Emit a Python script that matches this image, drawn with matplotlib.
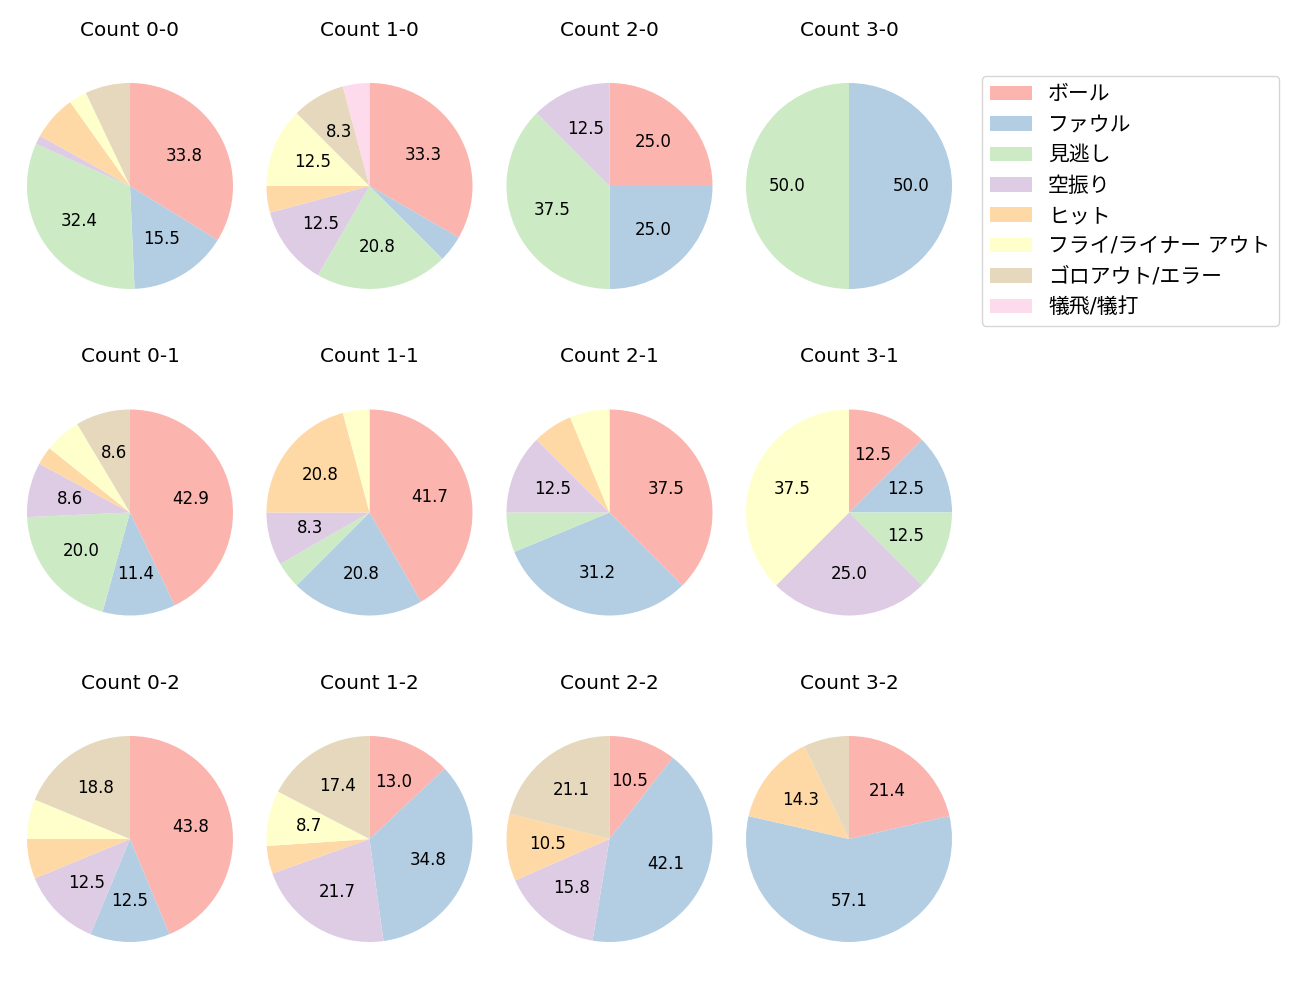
import matplotlib
matplotlib.use("Agg")
import matplotlib.pyplot as plt
from matplotlib.patches import Patch

plt.rcParams['font.family'] = ['DejaVu Sans', 'Noto Sans CJK JP']
plt.rcParams['font.size'] = 12

categories = ['ボール', 'ファウル', '見逃し', '空振り', 'ヒット',
              'フライ/ライナー アウト', 'ゴロアウト/エラー', '犠飛/犠打']
colors = ['#fbb4ae', '#b3cde3', '#ccebc5', '#decbe4', '#fed9a6',
          '#ffffcc', '#e5d8bd', '#fddaec']

count_labels = ['0-0', '1-0', '2-0', '3-0',
                '0-1', '1-1', '2-1', '3-1',
                '0-2', '1-2', '2-2', '3-2']

count_0_0 = [24, 11, 23, 1, 5, 2, 5, 0]
count_1_0 = [8, 1, 5, 3, 1, 3, 2, 1]
count_2_0 = [2, 2, 3, 1, 0, 0, 0, 0]
count_3_0 = [0, 1, 1, 0, 0, 0, 0, 0]
count_0_1 = [15, 4, 7, 3, 1, 2, 3, 0]
count_1_1 = [10, 5, 1, 2, 5, 1, 0, 0]
count_2_1 = [6, 5, 1, 2, 1, 1, 0, 0]
count_3_1 = [1, 1, 1, 2, 0, 3, 0, 0]
count_0_2 = [7, 2, 0, 2, 1, 1, 3, 0]
count_1_2 = [3, 8, 0, 5, 1, 2, 4, 0]
count_2_2 = [2, 8, 0, 3, 2, 0, 4, 0]
count_3_2 = [3, 8, 0, 0, 2, 0, 1, 0]

all_counts = [count_0_0, count_1_0, count_2_0, count_3_0,
              count_0_1, count_1_1, count_2_1, count_3_1,
              count_0_2, count_1_2, count_2_2, count_3_2]

W, H = 1300, 1000
fig = plt.figure(figsize=(13, 10), dpi=100)

cx = [130, 369.5, 609.5, 849]
cy = [186, 512.5, 839]
R = 103.0
side = R * 2.5

def fmt(p):
    return '%.1f' % p if p >= 8 else ''

for i, (lab, vals) in enumerate(zip(count_labels, all_counts)):
    r, c = divmod(i, 4)
    x0 = (cx[c] - side / 2) / W
    y0 = 1 - (cy[r] + side / 2) / H
    ax = fig.add_axes([x0, y0, side / W, side / H])
    ax.pie(vals, colors=colors, startangle=90, counterclock=False,
           autopct=fmt, pctdistance=0.6, textprops={'fontsize': 12})
    ax.set_xlim(-1.25, 1.25)
    ax.set_ylim(-1.25, 1.25)
    ax.set_title('Count ' + lab, fontsize=14.4, pad=15.3)

handles = [Patch(facecolor=col, label=cat) for col, cat in zip(colors, categories)]
fig.legend(handles=handles, loc='upper left',
           bbox_to_anchor=(981.5 / W, 1 - 76 / H), borderaxespad=0,
           fontsize=15, frameon=True)

fig.savefig('out.png', dpi=100)
